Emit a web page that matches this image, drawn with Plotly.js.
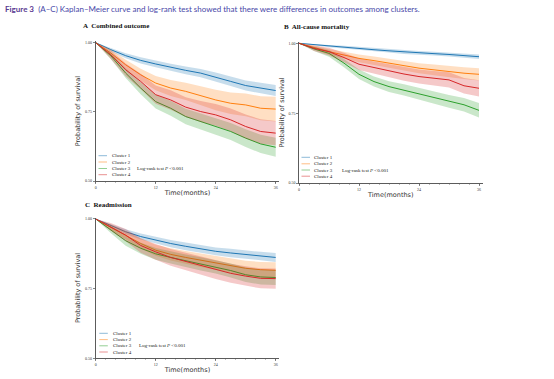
<!DOCTYPE html>
<html>
<head>
<meta charset="utf-8">
<script src="https://cdn.plot.ly/plotly-3.0.1.min.js"></script>
<style>html,body{margin:0;padding:0;background:#fff;}#chart{width:554px;height:379px;}</style>
</head>
<body>
<div id="chart"></div>
<script>
// ---------- DATA ----------
const months = [0, 3, 6, 9, 12, 15, 18, 21, 24, 27, 30, 33, 36];
const clusters = ['Cluster 1', 'Cluster 2', 'Cluster 3', 'Cluster 4'];
const panelTitles = ['A  Combined outcome', 'B  All-cause mortality', 'C  Readmission'];
const xTicks = [0, 12, 24, 36];
const yTicks = [0.5, 0.75, 1.0];
const yTickLabels = ['0.50', '0.75', '1.00'];
const testLabel = 'Log-rank test <i>P</i> &lt;0.001';
const caption = 'Figure 3';
const captionRest = '(A\u2013C) Kaplan\u2013Meier curve and log-rank test showed that there were differences in outcomes among clusters.';

// Panel A: combined outcome
const A_c1    = [1, 0.975, 0.953, 0.936, 0.923, 0.911, 0.900, 0.890, 0.876, 0.860, 0.845, 0.836, 0.827];
const A_c1_hi = [1, 0.982, 0.962, 0.947, 0.935, 0.924, 0.914, 0.905, 0.892, 0.877, 0.863, 0.855, 0.847];
const A_c1_lo = [1, 0.968, 0.944, 0.925, 0.911, 0.898, 0.886, 0.875, 0.860, 0.843, 0.827, 0.817, 0.807];
const A_c2    = [1, 0.963, 0.920, 0.884, 0.854, 0.836, 0.824, 0.808, 0.793, 0.781, 0.775, 0.763, 0.760];
const A_c2_hi = [1, 0.975, 0.938, 0.906, 0.880, 0.865, 0.855, 0.842, 0.830, 0.820, 0.816, 0.806, 0.805];
const A_c2_lo = [1, 0.951, 0.902, 0.862, 0.828, 0.807, 0.793, 0.774, 0.756, 0.742, 0.734, 0.720, 0.715];
const A_c3    = [1, 0.953, 0.890, 0.836, 0.787, 0.763, 0.733, 0.715, 0.697, 0.679, 0.655, 0.634, 0.622];
const A_c3_hi = [1, 0.965, 0.908, 0.858, 0.812, 0.790, 0.761, 0.744, 0.727, 0.710, 0.687, 0.667, 0.656];
const A_c3_lo = [1, 0.941, 0.872, 0.814, 0.762, 0.736, 0.705, 0.686, 0.667, 0.648, 0.623, 0.601, 0.588];
const A_c4    = [1, 0.957, 0.902, 0.860, 0.812, 0.793, 0.767, 0.751, 0.739, 0.721, 0.697, 0.679, 0.673];
const A_c4_hi = [1, 0.972, 0.925, 0.888, 0.845, 0.828, 0.803, 0.789, 0.778, 0.762, 0.740, 0.723, 0.717];
const A_c4_lo = [1, 0.942, 0.879, 0.832, 0.779, 0.758, 0.731, 0.713, 0.700, 0.680, 0.654, 0.635, 0.629];

// Panel B: all-cause mortality
const B_c1    = [1, 0.995, 0.990, 0.986, 0.981, 0.977, 0.973, 0.969, 0.965, 0.963, 0.960, 0.956, 0.952];
const B_c1_hi = [1, 0.998, 0.994, 0.991, 0.987, 0.983, 0.979, 0.976, 0.972, 0.970, 0.967, 0.963, 0.960];
const B_c1_lo = [1, 0.992, 0.986, 0.981, 0.975, 0.971, 0.967, 0.962, 0.958, 0.956, 0.953, 0.949, 0.944];
const B_c2    = [1, 0.985, 0.970, 0.958, 0.946, 0.938, 0.929, 0.920, 0.911, 0.905, 0.898, 0.893, 0.889];
const B_c2_hi = [1, 0.992, 0.980, 0.970, 0.960, 0.953, 0.945, 0.937, 0.929, 0.924, 0.918, 0.914, 0.911];
const B_c2_lo = [1, 0.978, 0.960, 0.946, 0.932, 0.923, 0.913, 0.903, 0.893, 0.886, 0.878, 0.872, 0.867];
const B_c3    = [1, 0.980, 0.964, 0.929, 0.889, 0.863, 0.845, 0.833, 0.819, 0.806, 0.792, 0.780, 0.760];
const B_c3_hi = [1, 0.988, 0.976, 0.944, 0.906, 0.881, 0.864, 0.853, 0.840, 0.828, 0.815, 0.804, 0.786];
const B_c3_lo = [1, 0.972, 0.952, 0.914, 0.872, 0.845, 0.826, 0.813, 0.798, 0.784, 0.769, 0.756, 0.734];
const B_c4    = [1, 0.982, 0.970, 0.949, 0.925, 0.913, 0.902, 0.890, 0.881, 0.875, 0.869, 0.848, 0.839];
const B_c4_hi = [1, 0.992, 0.984, 0.966, 0.946, 0.935, 0.925, 0.914, 0.906, 0.901, 0.896, 0.876, 0.868];
const B_c4_lo = [1, 0.972, 0.956, 0.932, 0.904, 0.891, 0.879, 0.866, 0.856, 0.849, 0.842, 0.820, 0.810];

// Panel C: readmission
const C_c1    = [1, 0.976, 0.954, 0.937, 0.924, 0.912, 0.902, 0.892, 0.884, 0.878, 0.872, 0.867, 0.862];
const C_c1_hi = [1, 0.982, 0.963, 0.948, 0.936, 0.925, 0.916, 0.906, 0.898, 0.893, 0.887, 0.882, 0.878];
const C_c1_lo = [1, 0.970, 0.945, 0.926, 0.912, 0.899, 0.888, 0.878, 0.870, 0.863, 0.857, 0.852, 0.846];
const C_c2    = [1, 0.970, 0.942, 0.912, 0.888, 0.873, 0.862, 0.852, 0.842, 0.832, 0.823, 0.818, 0.816];
const C_c2_hi = [1, 0.980, 0.957, 0.930, 0.908, 0.895, 0.885, 0.876, 0.867, 0.858, 0.850, 0.846, 0.845];
const C_c2_lo = [1, 0.960, 0.927, 0.894, 0.868, 0.851, 0.839, 0.828, 0.817, 0.806, 0.796, 0.790, 0.787];
const C_c3    = [1, 0.962, 0.922, 0.895, 0.875, 0.862, 0.850, 0.839, 0.828, 0.815, 0.800, 0.792, 0.790];
const C_c3_hi = [1, 0.974, 0.940, 0.915, 0.896, 0.884, 0.873, 0.863, 0.852, 0.840, 0.826, 0.819, 0.817];
const C_c3_lo = [1, 0.950, 0.904, 0.875, 0.854, 0.840, 0.827, 0.815, 0.804, 0.790, 0.774, 0.765, 0.763];
const C_c4    = [1, 0.972, 0.942, 0.905, 0.882, 0.862, 0.848, 0.833, 0.818, 0.805, 0.795, 0.787, 0.786];
const C_c4_hi = [1, 0.986, 0.964, 0.931, 0.910, 0.892, 0.879, 0.865, 0.851, 0.839, 0.830, 0.823, 0.822];
const C_c4_lo = [1, 0.958, 0.920, 0.879, 0.854, 0.832, 0.817, 0.801, 0.785, 0.771, 0.760, 0.751, 0.750];

// ---------- STYLE / LAYOUT ----------
const W = 554, H = 379;
const colors = ['#1f77b4', '#ff7f0e', '#2ca02c', '#d62728'];
const bands = ['rgba(31,119,180,0.25)', 'rgba(255,127,14,0.25)', 'rgba(44,160,44,0.25)', 'rgba(214,39,40,0.25)'];
const serif = 'Liberation Serif';
const sans = 'DejaVu Sans';
const fx = p => p / W;
const fy = p => 1 - p / H;

const panels = [
  {id: '', series: [[A_c1, A_c1_lo, A_c1_hi], [A_c2, A_c2_lo, A_c2_hi], [A_c3, A_c3_lo, A_c3_hi], [A_c4, A_c4_lo, A_c4_hi]],
   xd: [95.7, 279.2], yd: [181, 41.3], title: [80.5, 26], leg: {x: 98.5, tx: 109.5, y: [155.7, 162, 168.5, 174.7], lx: 135}},
  {id: '2', series: [[B_c1, B_c1_lo, B_c1_hi], [B_c2, B_c2_lo, B_c2_hi], [B_c3, B_c3_lo, B_c3_hi], [B_c4, B_c4_lo, B_c4_hi]],
   xd: [299, 482.5], yd: [183, 41.9], title: [281.5, 26.5], leg: {x: 301.5, tx: 312.3, y: [157.3, 163.8, 170, 176.2], lx: 339.5}},
  {id: '3', series: [[C_c1, C_c1_lo, C_c1_hi], [C_c2, C_c2_lo, C_c2_hi], [C_c3, C_c3_lo, C_c3_hi], [C_c4, C_c4_lo, C_c4_hi]],
   xd: [95.7, 279.2], yd: [358.3, 217.6], title: [82.5, 205], leg: {x: 99.3, tx: 110.5, y: [333.3, 339.6, 345.8, 352], lx: 137}}
];

const traces = [];
const shapes = [];
const annotations = [];
const layout = {
  width: W, height: H,
  margin: {l: 0, r: 0, t: 0, b: 0},
  paper_bgcolor: '#fff', plot_bgcolor: 'rgba(0,0,0,0)',
  showlegend: false,
  shapes: shapes, annotations: annotations
};

const revMonths = months.slice().reverse();
panels.forEach((p, pi) => {
  const xa = 'x' + p.id, ya = 'y' + p.id;
  p.series.forEach((s, ci) => {
    traces.push({
      x: months.concat(revMonths), y: s[2].concat(s[1].slice().reverse()),
      xaxis: xa, yaxis: ya, type: 'scatter', mode: 'lines', fill: 'toself',
      fillcolor: bands[ci], line: {width: 0, color: bands[ci]}, hoverinfo: 'skip', showlegend: false
    });
    traces.push({
      x: months, y: s[0], xaxis: xa, yaxis: ya, type: 'scatter', mode: 'lines',
      name: clusters[ci], line: {color: colors[ci], width: 1}, showlegend: false
    });
  });
  layout['xaxis' + p.id] = {
    domain: [fx(p.xd[0]), fx(p.xd[1])], range: [0, 36.7], anchor: ya,
    showgrid: false, zeroline: false, showline: true, linecolor: '#333', linewidth: 0.8,
    ticks: 'outside', ticklen: 2, tickwidth: 0.6, tickcolor: '#333',
    tickvals: xTicks, ticktext: xTicks.map(String),
    tickfont: {family: serif, size: 4, color: '#333'},
    minor: {ticks: 'outside', ticklen: 1.2, tickwidth: 0.4, tickcolor: '#555', dtick: 2, showgrid: false},
    title: {text: 'Time(months)', font: {family: sans, size: 6.5, color: '#333'}, standoff: 1},
    automargin: false, fixedrange: true
  };
  layout['yaxis' + p.id] = {
    domain: [fy(p.yd[0]), fy(p.yd[1])], range: [0.5, 1.005], anchor: xa,
    showgrid: false, zeroline: false, showline: true, linecolor: '#333', linewidth: 0.8,
    ticks: 'outside', ticklen: 2, tickwidth: 0.6, tickcolor: '#333',
    tickvals: yTicks, ticktext: yTickLabels,
    tickfont: {family: serif, size: 4, color: '#333'},
    title: {text: 'Probability of survival', font: {family: sans, size: 6.5, color: '#333'}, standoff: 3},
    automargin: false, fixedrange: true
  };

  annotations.push({
    xref: 'paper', yref: 'paper', x: fx(p.title[0]), y: fy(p.title[1]),
    xanchor: 'left', yanchor: 'middle', showarrow: false,
    text: '<b>' + panelTitles[pi] + '</b>', font: {family: serif, size: 7, color: '#111'}
  });
  clusters.forEach((c, ci) => {
    shapes.push({
      type: 'line', xref: 'paper', yref: 'paper',
      x0: fx(p.leg.x), x1: fx(p.leg.x + 8.5), y0: fy(p.leg.y[ci]), y1: fy(p.leg.y[ci]),
      line: {color: colors[ci], width: 1}, opacity: 0.5
    });
    annotations.push({
      xref: 'paper', yref: 'paper', x: fx(p.leg.tx), y: fy(p.leg.y[ci]),
      xanchor: 'left', yanchor: 'middle', showarrow: false,
      text: c, font: {family: serif, size: 5, color: '#222'}
    });
  });
  annotations.push({
    xref: 'paper', yref: 'paper', x: fx(p.leg.lx), y: fy(p.leg.y[2]),
    xanchor: 'left', yanchor: 'middle', showarrow: false,
    text: testLabel, font: {family: serif, size: 5, color: '#222'}
  });
});

annotations.push({
  xref: 'paper', yref: 'paper', x: fx(2.5), y: fy(8.5), xanchor: 'left', yanchor: 'middle', showarrow: false,
  text: '<span style="color:#5a3a91"><b>' + caption + '</b></span>  <span style="color:#4747a8">' + captionRest + '</span>',
  font: {family: 'Lato', size: 8, color: '#4747a8'}
});

Plotly.newPlot('chart', traces, layout, {staticPlot: true, displayModeBar: false});
</script>
</body>
</html>
